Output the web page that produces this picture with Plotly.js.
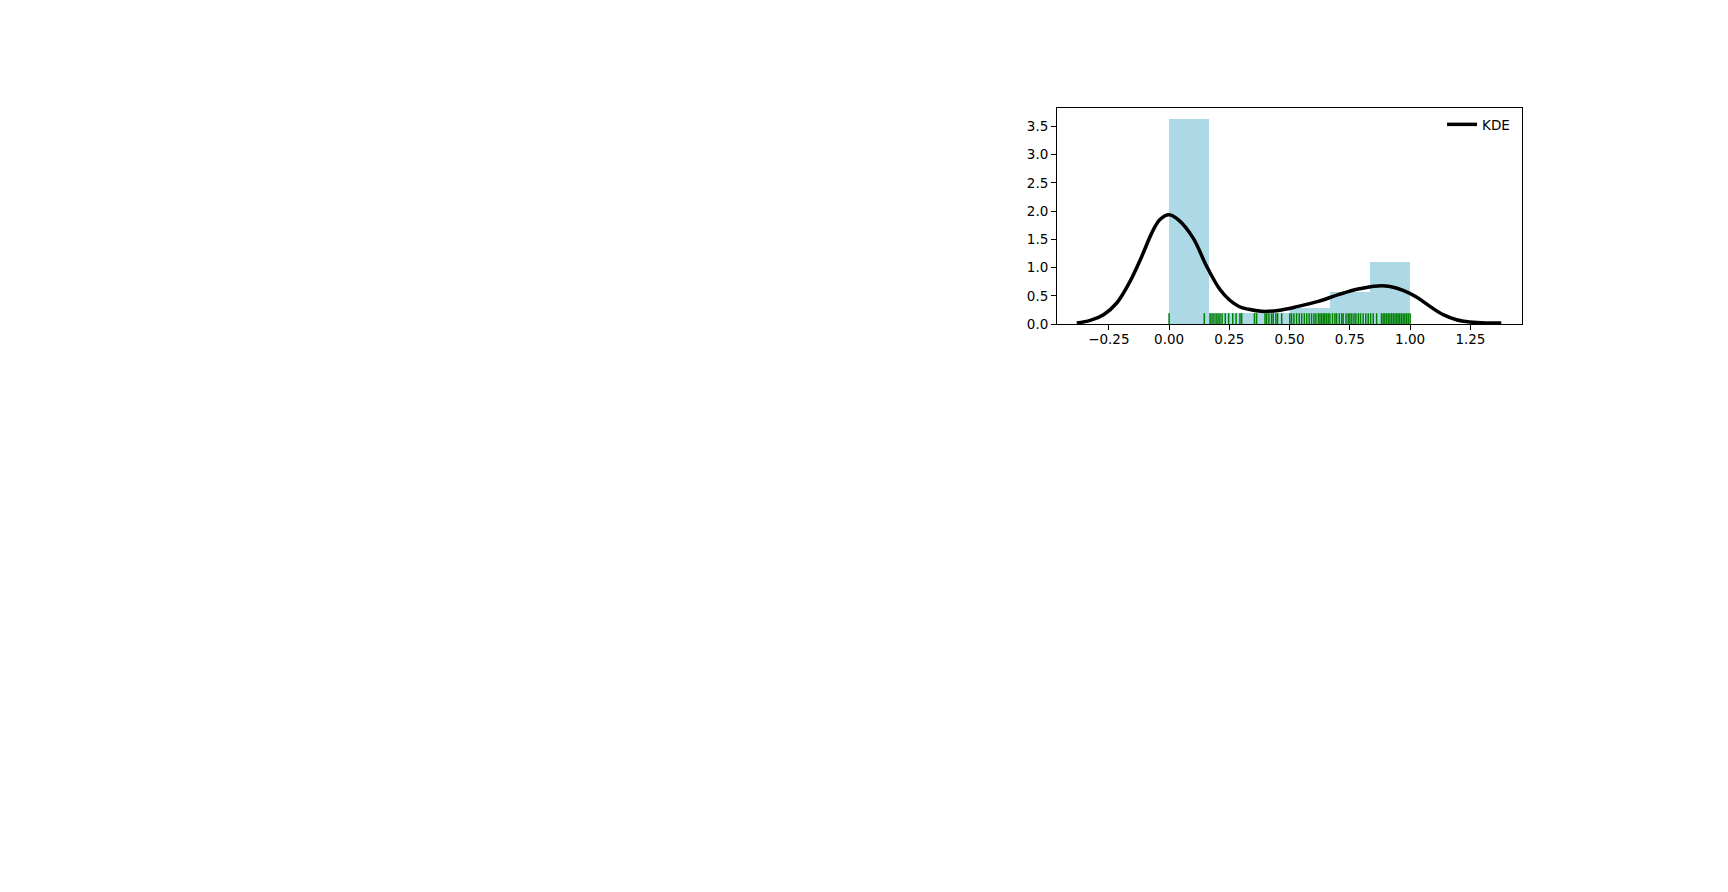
<!DOCTYPE html>
<html>
<head>
<meta charset="utf-8">
<script src="https://cdn.plot.ly/plotly-3.0.1.min.js"></script>
<style>
  html, body { margin: 0; padding: 0; background: #fff; }
  #chart { width: 1728px; height: 892px; }
</style>
</head>
<body>
<div id="chart"></div>
<script>
// histogram (density), 6 bins between 0 and 1
const binEdges = [0, 1 / 6, 2 / 6, 3 / 6, 4 / 6, 5 / 6, 1];
const binDensity = [3.636, 0.195, 0.195, 0.29, 0.565, 1.091];

// KDE curve
const kdeX = [-0.383, -0.327, -0.272, -0.217, -0.162, -0.113, -0.072, -0.038, 0.0, 0.04,
  0.1, 0.156, 0.211, 0.252, 0.29, 0.33, 0.384, 0.453, 0.536, 0.619,
  0.702, 0.784, 0.867, 0.916, 0.971, 1.026, 1.082, 1.137, 1.192, 1.247, 1.316, 1.378];
const kdeY = [0.018, 0.064, 0.165, 0.372, 0.755, 1.2, 1.61, 1.85, 1.936, 1.84,
  1.52, 1.02, 0.61, 0.42, 0.31, 0.26, 0.225, 0.24, 0.312, 0.4,
  0.519, 0.62, 0.675, 0.665, 0.596, 0.477, 0.312, 0.165, 0.076, 0.035, 0.017, 0.017];

// rug observations
const rugValues = [0, 0.146, 0.17, 0.178, 0.186, 0.195, 0.203, 0.211, 0.22, 0.233,
  0.247, 0.264, 0.278, 0.294, 0.301, 0.354, 0.363, 0.398, 0.405, 0.414,
  0.425, 0.432, 0.443, 0.45, 0.467, 0.501, 0.508, 0.518, 0.529, 0.54,
  0.55, 0.561, 0.571, 0.581, 0.591, 0.601, 0.609, 0.619, 0.626, 0.633,
  0.64, 0.646, 0.653, 0.66, 0.667, 0.678, 0.688, 0.695, 0.706, 0.716,
  0.722, 0.734, 0.743, 0.75, 0.758, 0.767, 0.775, 0.785, 0.794, 0.805,
  0.816, 0.826, 0.836, 0.847, 0.861, 0.881, 0.888, 0.895, 0.902, 0.909,
  0.916, 0.923, 0.93, 0.937, 0.944, 0.95, 0.957, 0.964, 0.971, 0.978,
  0.985, 0.992, 1.0];

const font = { family: 'DejaVu Sans', size: 13.5, color: '#000' };

const binCenters = binDensity.map((_, i) => (binEdges[i] + binEdges[i + 1]) / 2);
const binWidths = binDensity.map((_, i) => binEdges[i + 1] - binEdges[i]);

const histTrace = {
  type: 'bar',
  x: binCenters,
  y: binDensity,
  width: binWidths,
  marker: { color: '#add8e6', line: { width: 0 } },
  showlegend: false,
  hoverinfo: 'skip'
};

// rug: short vertical segments, 5% of axes height
const rugX = [];
const rugY = [];
rugValues.forEach(v => {
  rugX.push(v, v, null);
  rugY.push(0, 0.05, null);
});

const rugTrace = {
  type: 'scatter',
  mode: 'lines',
  x: rugX,
  y: rugY,
  yaxis: 'y2',
  line: { color: '#008000', width: 1.5 },
  showlegend: false,
  hoverinfo: 'skip'
};

const kdeTrace = {
  type: 'scatter',
  mode: 'lines',
  name: 'KDE',
  x: kdeX,
  y: kdeY,
  line: { color: '#000', width: 3.5, shape: 'spline', smoothing: 1 }
};

const axisStyle = {
  showline: true,
  mirror: true,
  linecolor: '#000',
  linewidth: 1,
  showgrid: false,
  zeroline: false,
  ticks: 'outside',
  ticklen: 5,
  tickwidth: 1,
  tickcolor: '#000',
  tickfont: font
};

const layout = {
  width: 1728,
  height: 892,
  paper_bgcolor: '#fff',
  plot_bgcolor: '#fff',
  font: font,
  margin: { l: 1057, r: 206, t: 108, b: 568 },
  bargap: 0,
  xaxis: Object.assign({}, axisStyle, {
    range: [-0.465, 1.464],
    tick0: 0,
    dtick: 0.25,
    tickformat: '.2f',
    ticklabelstandoff: -2
  }),
  yaxis: Object.assign({}, axisStyle, {
    range: [0, 3.826],
    tick0: 0,
    dtick: 0.5,
    tickformat: '.1f'
  }),
  yaxis2: {
    overlaying: 'y',
    range: [0, 1],
    visible: false,
    fixedrange: true
  },
  legend: {
    x: 0.985,
    xanchor: 'right',
    y: 0.995,
    yanchor: 'top',
    bgcolor: 'rgba(0,0,0,0)',
    font: font
  },
  showlegend: true
};

Plotly.newPlot('chart', [histTrace, rugTrace, kdeTrace], layout, { displayModeBar: false, staticPlot: true });
</script>
</body>
</html>
